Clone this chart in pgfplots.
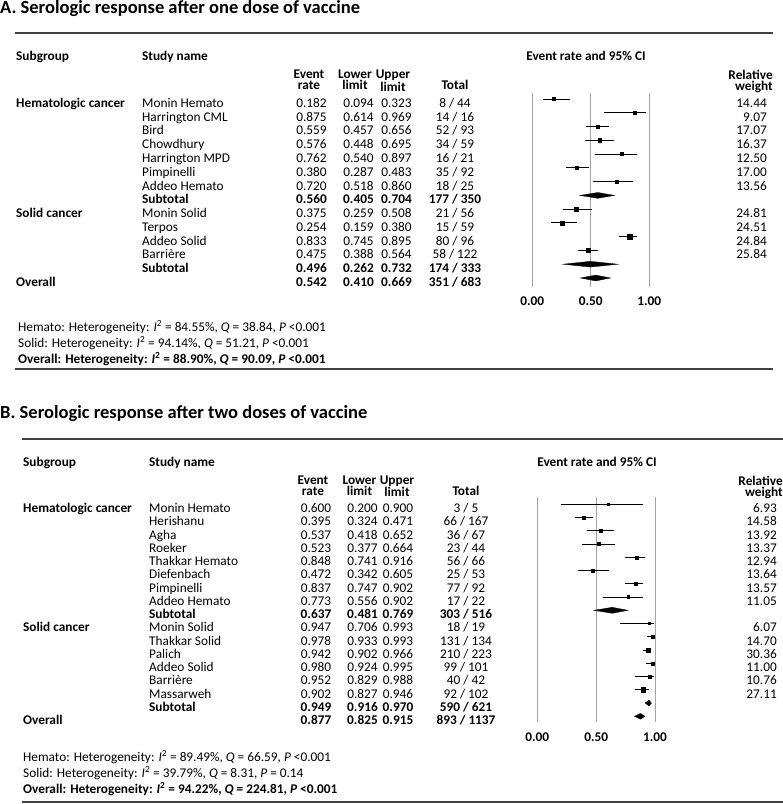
\documentclass[border=0pt]{standalone}
\usepackage{fontspec}
\setmainfont{Carlito}
\usepackage{pgfplots}
\pgfplotsset{compat=1.18}
\usepackage{pgfplotstable}

\newcommand\fs{\fontsize{13.3}{15}\selectfont}
\newcommand\fh{\fontsize{13.3}{11}\selectfont\bfseries}

% forest data: y = plotted row position, est, lower, upper, relative weight
\pgfplotstableread{
y est lo hi w
-99.0 0.182 0.094 0.323 14.44
-112.8 0.875 0.614 0.969 9.07
-126.5 0.559 0.457 0.656 17.07
-140.3 0.576 0.448 0.695 16.37
-154.1 0.762 0.540 0.897 12.50
-167.9 0.380 0.287 0.483 17.00
-181.6 0.720 0.518 0.860 13.56
-209.2 0.375 0.259 0.508 24.81
-222.9 0.254 0.159 0.380 24.51
-236.7 0.833 0.745 0.895 24.84
-250.5 0.475 0.388 0.564 25.84
}\dataA

\pgfplotstableread{
y est lo hi w
-504.3 0.600 0.200 0.900 6.93
-517.55 0.395 0.324 0.471 14.58
-530.8 0.537 0.418 0.652 13.92
-544.05 0.523 0.377 0.664 13.37
-557.3 0.848 0.741 0.916 12.94
-570.55 0.472 0.342 0.605 13.64
-583.8 0.837 0.747 0.902 13.57
-597.05 0.773 0.556 0.902 11.05
-623.55 0.947 0.706 0.993 6.07
-636.8 0.978 0.933 0.993 14.70
-650.05 0.942 0.902 0.966 30.36
-663.3 0.980 0.924 0.995 11.00
-676.55 0.952 0.829 0.988 10.76
-689.8 0.902 0.827 0.946 27.11
}\dataB

\newcommand\trow[9]{%
  \pgfmathsetmacro\yb{-(#1)-4.4}%
  \node[anchor=base west,font=\fs\bfseries] at (\cSub,\yb) {#3};
  \node[anchor=base west,font=\fs#2] at (\cStudy,\yb) {#4};
  \node[anchor=base,font=\fs#2] at (\cEv,\yb) {#5};
  \node[anchor=base,font=\fs#2] at (\cLo,\yb) {#6};
  \node[anchor=base,font=\fs#2] at (\cHi,\yb) {#7};
  \node[anchor=base,font=\fs#2] at (\cTot,\yb) {#8};
  \node[anchor=base east,font=\fs#2] at (\cW,\yb) {#9};
}

\pgfplotsset{forest/.style={
  scale only axis, clip=false,
  xmin=0, xmax=1,
  xtick={0,0.5,1}, xticklabels={0.00,0.50,1.00},
  ytick=\empty,
  xmajorgrids,
  major grid style={draw=black!36, line width=0.8pt},
  axis line style={draw=none},
  major tick style={draw=none},
  xticklabel style={font=\fs\bfseries, anchor=base, inner sep=0pt},
}}

\begin{document}
\begin{tikzpicture}[x=1pt,y=1pt,every node/.style={inner sep=0pt}]
\useasboundingbox (0,0) rectangle (783,-804);

% ================= Panel A =================
\node[anchor=base west,font=\fontsize{18.5}{20}\selectfont\bfseries] at (0,-13.5) {A. Serologic response after one dose of vaccine};
\draw[line width=1.5pt,black!75] (15,-33) -- (773,-33);
\draw[line width=1.5pt,black!75] (15,-369) -- (773,-369);

\begin{scope}[every node/.append style={font=\fs\bfseries}]
\node[anchor=base west] at (16,-60.3) {Subgroup};
\node[anchor=base west] at (142,-60.3) {Study name};
\node[anchor=base] at (586,-60.3) {Event rate and 95\% CI};
\node[anchor=base] at (455,-89.3) {Total};
\end{scope}
\node[anchor=north,align=center,font=\fh] at (309,-69.8) {Event\\rate};
\node[anchor=north,align=center,font=\fh] at (355,-69.8) {Lower\\limit};
\node[anchor=north,align=center,font=\fh] at (393,-69.8) {Upper\\limit};
\node[anchor=north east,align=right,font=\fh] at (773,-69.8) {Relative\\weight};

\def\cSub{16}\def\cStudy{142}\def\cEv{311.5}\def\cLo{358.5}\def\cHi{396.5}\def\cTot{455}\def\cW{767}
\trow{103}{}{Hematologic cancer}{Monin Hemato}{0.182}{0.094}{0.323}{8 / 44}{14.44}
\trow{116.8}{}{}{Harrington CML}{0.875}{0.614}{0.969}{14 / 16}{9.07}
\trow{130.5}{}{}{Bird}{0.559}{0.457}{0.656}{52 / 93}{17.07}
\trow{144.3}{}{}{Chowdhury}{0.576}{0.448}{0.695}{34 / 59}{16.37}
\trow{158.1}{}{}{Harrington MPD}{0.762}{0.540}{0.897}{16 / 21}{12.50}
\trow{171.9}{}{}{Pimpinelli}{0.380}{0.287}{0.483}{35 / 92}{17.00}
\trow{185.6}{}{}{Addeo Hemato}{0.720}{0.518}{0.860}{18 / 25}{13.56}
\trow{199.4}{\bfseries}{}{Subtotal}{0.560}{0.405}{0.704}{177 / 350}{}
\trow{213.2}{}{Solid cancer}{Monin Solid}{0.375}{0.259}{0.508}{21 / 56}{24.81}
\trow{226.9}{}{}{Terpos}{0.254}{0.159}{0.380}{15 / 59}{24.51}
\trow{240.7}{}{}{Addeo Solid}{0.833}{0.745}{0.895}{80 / 96}{24.84}
\trow{254.5}{}{}{Barrière}{0.475}{0.388}{0.564}{58 / 122}{25.84}
\trow{268.2}{\bfseries}{}{Subtotal}{0.496}{0.262}{0.732}{174 / 333}{}
\trow{282.0}{\bfseries}{Overall}{}{0.542}{0.410}{0.669}{351 / 683}{}

\node[anchor=base west,font=\fs] at (18,-331.4) {Hemato: Heterogeneity: \textit{I}\textsuperscript{2} = 84.55\%, \textit{Q} = 38.84, \textit{P} <0.001};
\node[anchor=base west,font=\fs] at (18,-347.4) {Solid: Heterogeneity: \textit{I}\textsuperscript{2} = 94.14\%, \textit{Q} = 51.21, \textit{P} <0.001};
\node[anchor=base west,font=\fs\bfseries] at (18,-363.4) {Overall: Heterogeneity: \textit{I}\textsuperscript{2} = 88.90\%, \textit{Q} = 90.09, \textit{P} <0.001};

\begin{axis}[forest, at={(532.3pt,-287pt)}, anchor=south west,
  width=117pt, height=194pt, ymin=-287, ymax=-93,
  xticklabel style={yshift=-18pt}]
\addplot[scatter, only marks, mark=square*,
  scatter/use mapped color={draw=black,fill=black},
  visualization depends on={0.42*sqrt(\thisrow{w}) \as \ms},
  scatter/@pre marker code/.append style={/tikz/mark size=\ms},
  error bars/.cd, x dir=both, x explicit, error mark=none,
  error bar style={line width=1pt,black}]
  table[x=est,y=y,x error plus expr=\thisrow{hi}-\thisrow{est},x error minus expr=\thisrow{est}-\thisrow{lo}] {\dataA};
\addplot[fill=black,draw=black,line width=0.3pt] coordinates {(0.405,-195.4) (0.560,-192.5) (0.704,-195.4) (0.560,-198.3)} -- cycle;
\addplot[fill=black,draw=black,line width=0.3pt] coordinates {(0.262,-264.2) (0.496,-261.3) (0.732,-264.2) (0.496,-267.1)} -- cycle;
\addplot[fill=black,draw=black,line width=0.3pt] coordinates {(0.410,-278.0) (0.542,-275.1) (0.669,-278.0) (0.542,-280.9)} -- cycle;
\end{axis}

% ================= Panel B =================
\node[anchor=base west,font=\fontsize{18.5}{20}\selectfont\bfseries] at (0,-418.3) {B. Serologic response after two doses of vaccine};
\draw[line width=1.5pt,black!75] (22,-439) -- (783,-439);
\draw[line width=1.5pt,black!75] (22,-802) -- (783,-802);

\begin{scope}[every node/.append style={font=\fs\bfseries}]
\node[anchor=base west] at (23,-466) {Subgroup};
\node[anchor=base west] at (149,-466) {Study name};
\node[anchor=base] at (597,-466) {Event rate and 95\% CI};
\node[anchor=base] at (466,-495) {Total};
\end{scope}
\node[anchor=north,align=center,font=\fh] at (313,-475.5) {Event\\rate};
\node[anchor=north,align=center,font=\fh] at (359.5,-475.5) {Lower\\limit};
\node[anchor=north,align=center,font=\fh] at (397,-475.5) {Upper\\limit};
\node[anchor=north east,align=right,font=\fh] at (783,-475.5) {Relative\\weight};

\def\cSub{23}\def\cStudy{149}\def\cEv{316}\def\cLo{362.5}\def\cHi{398}\def\cTot{466}\def\cW{777}
\trow{508.3}{}{Hematologic cancer}{Monin Hemato}{0.600}{0.200}{0.900}{3 / 5}{6.93}
\trow{521.55}{}{}{Herishanu}{0.395}{0.324}{0.471}{66 / 167}{14.58}
\trow{534.8}{}{}{Agha}{0.537}{0.418}{0.652}{36 / 67}{13.92}
\trow{548.05}{}{}{Roeker}{0.523}{0.377}{0.664}{23 / 44}{13.37}
\trow{561.3}{}{}{Thakkar Hemato}{0.848}{0.741}{0.916}{56 / 66}{12.94}
\trow{574.55}{}{}{Diefenbach}{0.472}{0.342}{0.605}{25 / 53}{13.64}
\trow{587.8}{}{}{Pimpinelli}{0.837}{0.747}{0.902}{77 / 92}{13.57}
\trow{601.05}{}{}{Addeo Hemato}{0.773}{0.556}{0.902}{17 / 22}{11.05}
\trow{614.3}{\bfseries}{}{Subtotal}{0.637}{0.481}{0.769}{303 / 516}{}
\trow{627.55}{}{Solid cancer}{Monin Solid}{0.947}{0.706}{0.993}{18 / 19}{6.07}
\trow{640.8}{}{}{Thakkar Solid}{0.978}{0.933}{0.993}{131 / 134}{14.70}
\trow{654.05}{}{}{Palich}{0.942}{0.902}{0.966}{210 / 223}{30.36}
\trow{667.3}{}{}{Addeo Solid}{0.980}{0.924}{0.995}{99 / 101}{11.00}
\trow{680.55}{}{}{Barrière}{0.952}{0.829}{0.988}{40 / 42}{10.76}
\trow{693.8}{}{}{Massarweh}{0.902}{0.827}{0.946}{92 / 102}{27.11}
\trow{707.05}{\bfseries}{}{Subtotal}{0.949}{0.916}{0.970}{590 / 621}{}
\trow{720.3}{\bfseries}{Overall}{}{0.877}{0.825}{0.915}{893 / 1137}{}

\node[anchor=base west,font=\fs] at (23,-761.4) {Hemato: Heterogeneity: \textit{I}\textsuperscript{2} = 89.49\%, \textit{Q} = 66.59, \textit{P} <0.001};
\node[anchor=base west,font=\fs] at (23,-777.4) {Solid: Heterogeneity: \textit{I}\textsuperscript{2} = 39.79\%, \textit{Q} = 8.31, \textit{P} = 0.14};
\node[anchor=base west,font=\fs\bfseries] at (23,-793.4) {Overall: Heterogeneity: \textit{I}\textsuperscript{2} = 94.22\%, \textit{Q} = 224.81, \textit{P} <0.001};

\begin{axis}[forest, at={(537.3pt,-722pt)}, anchor=south west,
  width=117.7pt, height=225pt, ymin=-722, ymax=-497,
  xticklabel style={yshift=-19.7pt}]
\addplot[scatter, only marks, mark=square*,
  scatter/use mapped color={draw=black,fill=black},
  visualization depends on={0.42*sqrt(\thisrow{w}) \as \ms},
  scatter/@pre marker code/.append style={/tikz/mark size=\ms},
  error bars/.cd, x dir=both, x explicit, error mark=none,
  error bar style={line width=0.9pt,black}]
  table[x=est,y=y,x error plus expr=\thisrow{hi}-\thisrow{est},x error minus expr=\thisrow{est}-\thisrow{lo}] {\dataB};
\addplot[fill=black,draw=black,line width=0.3pt] coordinates {(0.481,-610.3) (0.637,-607.3) (0.769,-610.3) (0.637,-613.3)} -- cycle;
\addplot[fill=black,draw=black,line width=0.3pt] coordinates {(0.916,-703.05) (0.949,-700.1) (0.970,-703.05) (0.949,-706.0)} -- cycle;
\addplot[fill=black,draw=black,line width=0.3pt] coordinates {(0.825,-716.3) (0.877,-713.4) (0.915,-716.3) (0.877,-719.2)} -- cycle;
\end{axis}
\end{tikzpicture}
\end{document}
